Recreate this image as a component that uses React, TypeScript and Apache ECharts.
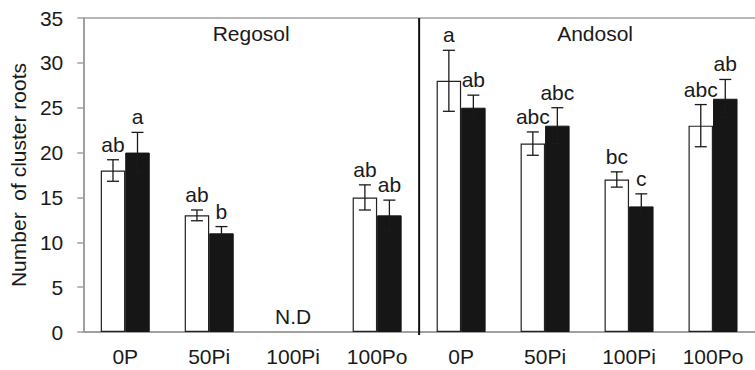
import React, { useEffect, useRef } from "react";
import * as echarts from "echarts";

const categories = ["0P", "50Pi", "100Pi", "100Po", "0P", "50Pi", "100Pi", "100Po"];
const soilGroups = ["Regosol", "Andosol"];
const whiteValues = [18, 13, null, 15, 28, 21, 17, 23];
const whiteErrors = [1.2, 0.6, null, 1.4, 3.4, 1.3, 0.85, 2.35];
const whiteLetters = ["ab", "ab", "", "ab", "a", "abc", "bc", "abc"];
const blackValues = [20, 11, null, 13, 25, 23, 14, 26];
const blackErrors = [2.25, 0.75, null, 1.7, 1.4, 2.0, 1.4, 2.15];
const blackLetters = ["a", "b", "", "ab", "ab", "abc", "c", "ab"];
const notDetectedIndex = 2;
const yTicks = { min: 0, max: 35, interval: 5 };

const FONT = '"Liberation Sans", Arial, sans-serif';
const FS = 21;
const TEXT = "#1a1a1a";
const AXIS = "#a0a0a0";
const BAR_W = 24.5;

function errSeries(values: (number | null)[], errs: (number | null)[], letters: string[], offset: number) {
  const data = values.map((v, i) => (v == null ? [i, NaN, NaN] : [i, v, errs[i] as number]));
  return {
    type: "custom",
    z: 5,
    data,
    renderItem: (params: any, api: any) => {
      const v = api.value(1);
      const e = api.value(2);
      if (isNaN(v)) return null;
      const cat = api.value(0);
      const top = api.coord([cat, v + e]);
      const bot = api.coord([cat, v - e]);
      const x = top[0] + offset;
      const cap = 6;
      const ls = { stroke: "#1a1a1a", lineWidth: 1.3 };
      return {
        type: "group",
        children: [
          { type: "line", shape: { x1: x, y1: top[1], x2: x, y2: bot[1] }, style: ls },
          { type: "line", shape: { x1: x - cap, y1: top[1], x2: x + cap, y2: top[1] }, style: ls },
          { type: "line", shape: { x1: x - cap, y1: bot[1], x2: x + cap, y2: bot[1] }, style: ls },
          {
            type: "text",
            x,
            y: top[1] - 5,
            style: {
              text: letters[params.dataIndex],
              fill: TEXT,
              fontSize: FS,
              fontFamily: FONT,
              align: "center",
              verticalAlign: "bottom",
            },
          },
        ],
      };
    },
  };
}

export default function App() {
  const ref = useRef<HTMLDivElement>(null);
  useEffect(() => {
    if (!ref.current) return;
    const chart = echarts.init(ref.current, null, { renderer: "svg" });
    chart.setOption({
      animation: false,
      grid: { left: 83, right: -12, top: 18, bottom: 38 },
      xAxis: [
        {
          type: "category",
          data: categories,
          axisLine: { lineStyle: { color: AXIS, width: 2 } },
          axisTick: { show: false },
          axisLabel: { color: TEXT, fontSize: FS, fontFamily: FONT, margin: 14, interval: 0 },
        },
        {
          type: "category",
          position: "top",
          data: categories,
          axisLine: { lineStyle: { color: AXIS, width: 1.5 } },
          axisTick: { show: false },
          axisLabel: { show: false },
        },
      ],
      yAxis: {
        type: "value",
        min: yTicks.min,
        max: yTicks.max,
        interval: yTicks.interval,
        name: "Number  of cluster roots",
        nameLocation: "middle",
        nameGap: 51,
        nameTextStyle: { color: TEXT, fontSize: FS, fontFamily: FONT },
        axisLine: { show: true, lineStyle: { color: AXIS, width: 2 } },
        axisTick: { show: true, length: 6, lineStyle: { color: AXIS, width: 1.5 } },
        axisLabel: { color: TEXT, fontSize: FS, fontFamily: FONT, margin: 20 },
        splitLine: { show: false },
      },
      series: [
        {
          type: "bar",
          data: whiteValues,
          barWidth: BAR_W,
          barGap: "0%",
          itemStyle: { color: "#ffffff", borderColor: "#222", borderWidth: 1.2 },
        },
        {
          type: "bar",
          data: blackValues,
          barWidth: BAR_W,
          barGap: "0%",
          itemStyle: { color: "#161616", borderColor: "#161616", borderWidth: 1 },
        },
        errSeries(whiteValues, whiteErrors, whiteLetters, -BAR_W / 2),
        errSeries(blackValues, blackErrors, blackLetters, BAR_W / 2),
      ],
    });
    const px = (c: number, v: number) => chart.convertToPixel({ xAxisIndex: 0, yAxisIndex: 0 }, [c, v]) as number[];
    const p3 = px(3, 0);
    const p4 = px(4, 0);
    const divX = (p3[0] + p4[0]) / 2;
    const top = px(0, yTicks.max)[1];
    const bottom = p3[1];
    const g1 = (px(1, 0)[0] + px(2, 0)[0]) / 2;
    const g2 = (px(5, 0)[0] + px(6, 0)[0]) / 2 + 8;
    const nd = px(notDetectedIndex, 0);
    chart.setOption({
      graphic: [
        { type: "line", shape: { x1: divX, y1: top, x2: divX, y2: bottom + 3 }, style: { stroke: "#111", lineWidth: 2 }, z: 10 },
        { type: "text", x: g1, y: top + 15, style: { text: soilGroups[0], fill: TEXT, fontSize: FS, fontFamily: FONT, align: "center", verticalAlign: "middle" } },
        { type: "text", x: g2, y: top + 15, style: { text: soilGroups[1], fill: TEXT, fontSize: FS, fontFamily: FONT, align: "center", verticalAlign: "middle" } },
        { type: "text", x: nd[0], y: nd[1] - 16, style: { text: "N.D", fill: TEXT, fontSize: FS, fontFamily: FONT, align: "center", verticalAlign: "middle" } },
      ],
    });
    return () => chart.dispose();
  }, []);
  return <div ref={ref} style={{ width: 755, height: 370, position: "absolute", left: 0, top: 0 }} />;
}
